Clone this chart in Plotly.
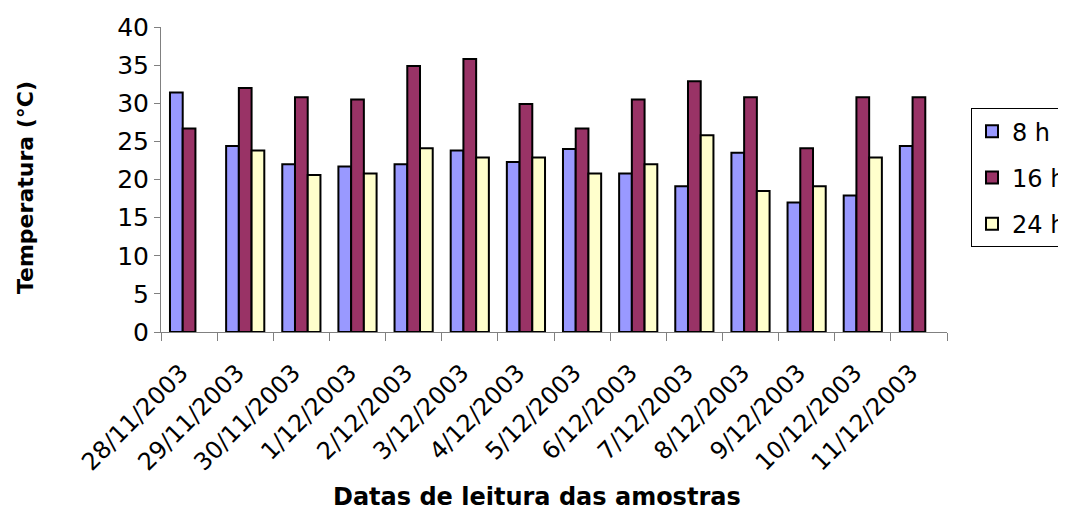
import plotly.graph_objects as go

dates = ["28/11/2003", "29/11/2003", "30/11/2003", "1/12/2003", "2/12/2003",
         "3/12/2003", "4/12/2003", "5/12/2003", "6/12/2003", "7/12/2003",
         "8/12/2003", "9/12/2003", "10/12/2003", "11/12/2003"]
t8 = [31.4, 24.4, 22.0, 21.7, 22.0, 23.8, 22.3, 24.0, 20.8, 19.1, 23.5, 17.0, 17.9, 24.4]
t16 = [26.7, 32.0, 30.8, 30.5, 34.9, 35.8, 29.9, 26.7, 30.5, 32.9, 30.8, 24.1, 30.8, 30.8]
t24 = [None, 23.8, 20.6, 20.8, 24.1, 22.9, 22.9, 20.8, 22.0, 25.8, 18.5, 19.1, 22.9, None]

series = [("8 h", t8, "#9999FF"), ("16 h", t16, "#993366"), ("24 h", t24, "#FFFFCC")]

FONT = "DejaVu Sans, Arial, sans-serif"

fig = go.Figure()
for i, (name, vals, col) in enumerate(series):
    fig.add_trace(go.Bar(
        x=dates, y=vals, name=name, legendgroup=f"g{i}",
        marker=dict(color=col, line=dict(color="black", width=2)),
    ))

fig.update_layout(
    width=1066, height=527,
    paper_bgcolor="white", plot_bgcolor="white",
    margin=dict(l=153, r=127, t=19, b=203, autoexpand=False),
    barmode="group", bargap=0.32, bargroupgap=0,
    font=dict(family=FONT, color="black"),
    showlegend=True,
    legend=dict(
        x=1.0305, y=0.734, xanchor="left", yanchor="top",
        bordercolor="black", borderwidth=1, bgcolor="white",
        font=dict(size=24, family=FONT), tracegroupgap=12,
    ),
    xaxis=dict(
        type="category", tickson="boundaries", ticks="outside", ticklen=8,
        tickcolor="#808080", showline=True, linecolor="#808080", linewidth=1,
        tickangle=-45, tickfont=dict(size=24, family=FONT), showgrid=False,
        ticklabelstandoff=16, ticklabelshift=-8,
    ),
    yaxis=dict(
        range=[0, 40], dtick=5, ticks="outside", ticklen=6, tickcolor="#808080",
        showline=True, linecolor="#808080", linewidth=1, showgrid=False,
        tickfont=dict(size=25, family=FONT), zeroline=False,
    ),
    annotations=[
        dict(text="<b>Temperatura (°C)</b>", xref="paper", yref="paper",
             x=-0.173, y=0.472, textangle=-90, showarrow=False,
             font=dict(size=22, family=FONT), xanchor="center", yanchor="middle"),
        dict(text="<b>Datas de leitura das amostras</b>", xref="paper", yref="paper",
             x=0.479, y=-0.541, showarrow=False,
             font=dict(size=24, family=FONT), xanchor="center", yanchor="middle"),
    ],
)

fig.write_html("out.html")
